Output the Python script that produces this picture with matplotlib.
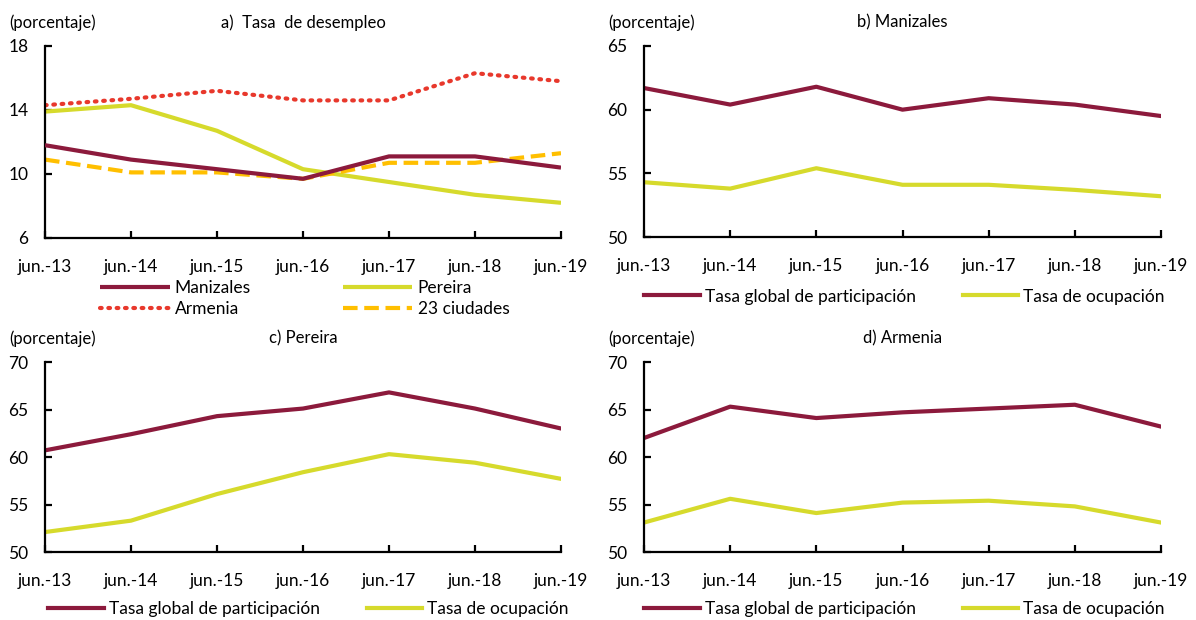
import matplotlib
matplotlib.use("Agg")
import matplotlib.pyplot as plt

plt.rcParams['font.family'] = ['Lato', 'DejaVu Sans']

periods = ["jun.-13", "jun.-14", "jun.-15", "jun.-16", "jun.-17", "jun.-18", "jun.-19"]

# a) Tasa de desempleo
desempleo_manizales = [11.8, 10.9, 10.3, 9.7, 11.1, 11.1, 10.4]
desempleo_pereira = [13.9, 14.3, 12.7, 10.3, 9.5, 8.7, 8.2]
desempleo_armenia = [14.3, 14.7, 15.2, 14.6, 14.6, 16.3, 15.8]
desempleo_23ciudades = [10.9, 10.1, 10.1, 9.7, 10.7, 10.7, 11.3]

# b) Manizales
manizales_tgp = [61.7, 60.4, 61.8, 60.0, 60.9, 60.4, 59.5]
manizales_to = [54.3, 53.8, 55.4, 54.1, 54.1, 53.7, 53.2]

# c) Pereira
pereira_tgp = [60.7, 62.4, 64.3, 65.1, 66.8, 65.1, 63.0]
pereira_to = [52.1, 53.3, 56.1, 58.4, 60.3, 59.4, 57.7]

# d) Armenia
armenia_tgp = [62.0, 65.3, 64.1, 64.7, 65.1, 65.5, 63.2]
armenia_to = [53.1, 55.6, 54.1, 55.2, 55.4, 54.8, 53.1]

MAROON = "#8C1A3C"
YELLOW = "#D6DA2C"
RED = "#E8382C"
GOLD = "#FFBF00"
LW = 3.0

W, H = 1196, 620
fig = plt.figure(figsize=(W / 100, H / 100), dpi=100)

def px_axes(x0, y0, x1, y1):
    return fig.add_axes([x0 / W, 1 - y1 / H, (x1 - x0) / W, (y1 - y0) / H])

def style(ax, ylim, yticks, title, tx):
    x = list(range(len(periods)))
    ax.set_xlim(0, len(periods) - 1)
    ax.set_ylim(*ylim)
    ax.set_xticks(x)
    ax.set_xticklabels(periods)
    for s in ["top", "right"]:
        ax.spines[s].set_visible(False)
    for s in ["left", "bottom"]:
        ax.spines[s].set_linewidth(1.6)
        ax.spines[s].set_color("black")
    ax.tick_params(axis="both", direction="in", length=5, width=1.6, labelsize=12.5, colors="black")
    ax.tick_params(axis="y", pad=12)
    ax.tick_params(axis="x", pad=15)
    ax.set_yticks(yticks)
    ax.set_yticklabels([str(v) for v in yticks])
    ax.text(-0.07, 1.08, "(porcentaje)", transform=ax.transAxes, fontsize=12, ha="left", va="bottom")
    ax.text(tx, 1.08, title, transform=ax.transAxes, fontsize=12, ha="center", va="bottom")

x = list(range(len(periods)))

# Panel a
ax_a = px_axes(45, 46, 561, 238)
ax_a.plot(x, desempleo_manizales, color=MAROON, lw=LW, label="Manizales", solid_capstyle="butt", zorder=3)
ax_a.plot(x, desempleo_pereira, color=YELLOW, lw=LW, label="Pereira", solid_capstyle="butt", zorder=2)
ax_a.plot(x, desempleo_armenia, color=RED, lw=LW, ls=(0, (0.4, 1.6)), dash_capstyle="round", label="Armenia", zorder=2)
ax_a.plot(x, desempleo_23ciudades, color=GOLD, lw=LW, ls=(0, (3.5, 1.6)), label="23 ciudades", zorder=2)
style(ax_a, (6, 18), [6, 10, 14, 18], "a)  Tasa  de desempleo", 0.5)
h, l = ax_a.get_legend_handles_labels()
order = [0, 2, 1, 3]
ax_a.legend([h[i] for i in order], [l[i] for i in order], ncol=2, loc="upper left",
            bbox_to_anchor=(0.107, -0.22), frameon=False, fontsize=12.5, handlelength=4.0,
            handletextpad=0.3, columnspacing=5.3, labelspacing=0.3, borderpad=0, borderaxespad=0)

# Panel b
ax_b = px_axes(644, 46, 1161, 237)
ax_b.plot(x, manizales_tgp, color=MAROON, lw=LW, label="Tasa global de participación")
ax_b.plot(x, manizales_to, color=YELLOW, lw=LW, label="Tasa de ocupación")
style(ax_b, (50, 65), [50, 55, 60, 65], "b) Manizales", 0.5)

# Panel c
ax_c = px_axes(45, 362, 561, 552)
ax_c.plot(x, pereira_tgp, color=MAROON, lw=LW, label="Tasa global de participación")
ax_c.plot(x, pereira_to, color=YELLOW, lw=LW, label="Tasa de ocupación")
style(ax_c, (50, 70), [50, 55, 60, 65, 70], "c) Pereira", 0.5)

# Panel d
ax_d = px_axes(644, 362, 1161, 552)
ax_d.plot(x, armenia_tgp, color=MAROON, lw=LW, label="Tasa global de participación")
ax_d.plot(x, armenia_to, color=YELLOW, lw=LW, label="Tasa de ocupación")
style(ax_d, (50, 70), [50, 55, 60, 65, 70], "d) Armenia", 0.5)

for ax, yb, xb in ((ax_b, -0.27, 0.0), (ax_c, -0.26, 0.006), (ax_d, -0.26, 0.0)):
    ax.legend(ncol=2, loc="upper left", bbox_to_anchor=(xb, yb), frameon=False,
              fontsize=12.5, handlelength=3.2, handletextpad=0.3, columnspacing=2.7,
              borderpad=0, borderaxespad=0)

fig.savefig("out.png", dpi=100)
